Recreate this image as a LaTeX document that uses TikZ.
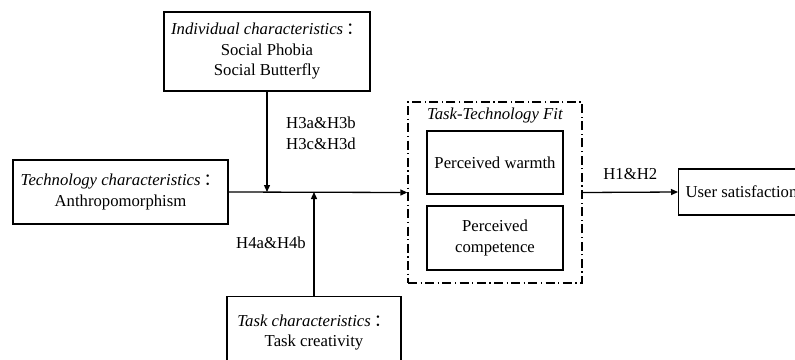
\documentclass[tikz,border=0pt]{standalone}
\usepackage{fontspec}
\setmainfont{Liberation Serif}
\newfontfamily\cjk{Noto Sans CJK SC}
\usetikzlibrary{arrows.meta,positioning}
\def\colon{\kern3pt\cjk{：}}
\def\lw{1.3pt}

\begin{document}
\begin{tikzpicture}[x=1pt, y=-1pt,
    every node/.style={font=\fontsize{16.7}{20.5}\selectfont, align=center},
    box/.style={draw, line width=\lw, inner sep=0pt},
    fitbox/.style={draw, line width=\lw, inner sep=0pt,
      dash pattern=on 9pt off 3.5pt on 1.2pt off 3.5pt},
    link/.style={line width=\lw, -{Triangle[length=7pt, width=6pt]}},
    hyp/.style={align=left, inner sep=0pt}]
    \useasboundingbox (0,0) rectangle (795,359);

    \node[box, minimum width=206pt, minimum height=79pt] (indiv) at (267,51.5)
      {\textit{Individual characteristics}\colon\\ Social Phobia\\ Social Butterfly};
    \node[box, minimum width=215pt, minimum height=64pt] (tech) at (120.5,192)
      {\textit{Technology characteristics}\colon\\ Anthropomorphism};
    \node[box, minimum width=174pt, minimum height=72pt, anchor=north] (task) at (314,296)
      {\textit{Task characteristics}\colon\\ Task creativity};

    % dashed frame with its two constructs
    \node[fitbox, minimum width=174pt, minimum height=181pt] (fit) at (495,192.5) {};
    \node (fitlbl) at (495,116) {\textit{Task-Technology Fit}};
    \node[box, minimum width=136pt, minimum height=63pt] (warmth) at (495,162.5) {Perceived warmth};
    \node[box, minimum width=136pt, minimum height=64pt] (compet) at (495,238) {Perceived\\ competence};

    \node[box, minimum height=46pt, inner xsep=7pt, anchor=west] (user) at (678,192) {User satisfaction};

    \draw[link] (tech.east) -- (fit.west);
    \draw[link] (indiv.south) -- (indiv.south |- tech.east);
    \draw[link] (task.north) -- (task.north |- tech.east);
    \draw[link] (fit.east) -- node[above=9pt] (hone) {H1\&H2} (user.west);

    \node[hyp] (hthree) at (321,133.5) {H3a\&H3b\\ H3c\&H3d};
    \node[hyp] (hfour) at (271,243) {H4a\&H4b};
\end{tikzpicture}
\end{document}
